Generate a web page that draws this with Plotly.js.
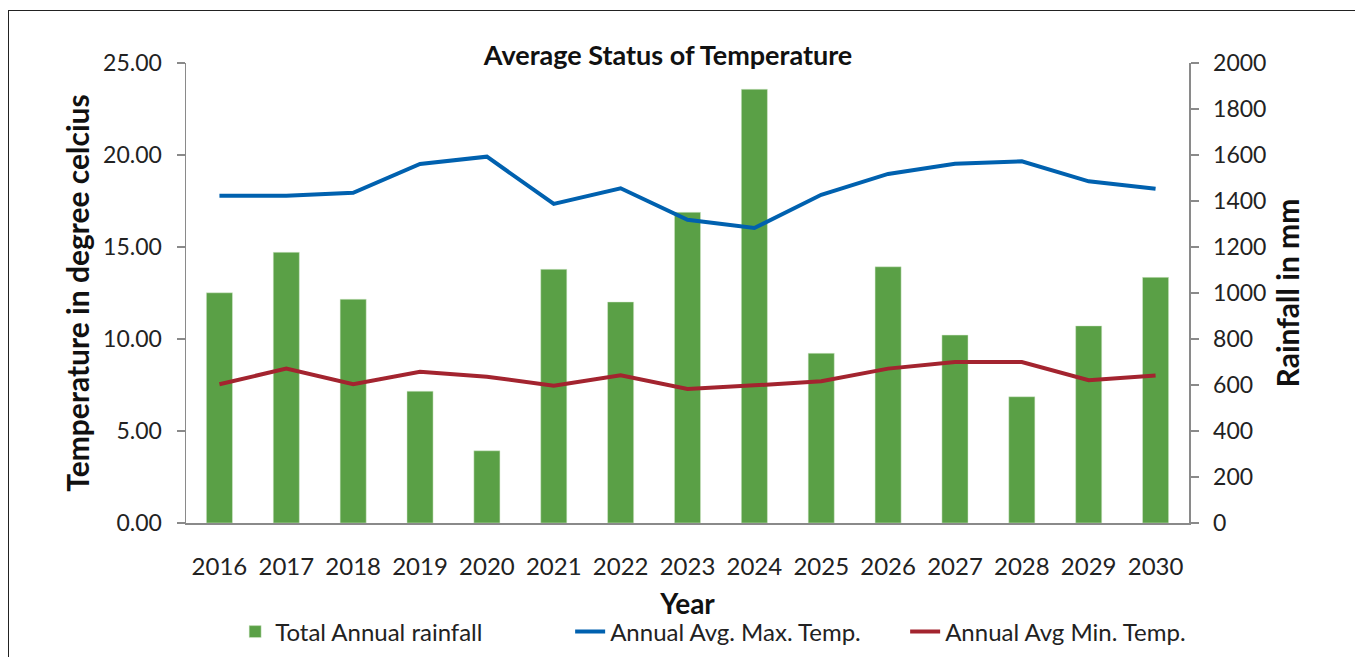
<!DOCTYPE html>
<html>
<head>
<meta charset="utf-8">
<script src="https://cdn.plot.ly/plotly-3.0.1.min.js"></script>
<style>
  html, body { margin: 0; padding: 0; background: #fff; overflow: hidden; width: 1357px; height: 659px; }
  #chart { position: absolute; left: 0; top: 0; width: 1357px; height: 659px; }
  #frame { position: absolute; left: 8px; top: 10px; width: 1347px; height: 647px; box-sizing: border-box;
           border-left: 1.5px solid #222; border-top: 1.5px solid #222; pointer-events: none; }
</style>
</head>
<body>
<div id="chart"></div>
<div id="frame"></div>
<script>
const years = ['2016','2017','2018','2019','2020','2021','2022','2023','2024','2025','2026','2027','2028','2029','2030'];
const rainfall = [1001, 1177, 973, 573, 314, 1103, 961, 1351, 1886, 738, 1114, 817, 549, 857, 1068];
const maxTemp = [17.79, 17.79, 17.95, 19.51, 19.91, 17.34, 18.19, 16.48, 16.03, 17.84, 18.97, 19.53, 19.66, 18.57, 18.17];
const minTemp = [7.54, 8.39, 7.54, 8.22, 7.95, 7.46, 8.03, 7.28, 7.48, 7.70, 8.39, 8.75, 8.75, 7.76, 8.01];

const FONT = 'Lato, "Open Sans", sans-serif';
const axisGrey = '#8a8a8a';

const traces = [
  { type: 'bar', name: 'Total Annual rainfall', x: years, y: rainfall, yaxis: 'y',
    marker: { color: '#5AA046', line: { color: '#d8ead0', width: 0.5 } } },
  { type: 'scatter', mode: 'lines', name: 'Annual Avg. Max. Temp.', x: years, y: maxTemp, yaxis: 'y2',
    line: { color: '#0061AF', width: 4 } },
  { type: 'scatter', mode: 'lines', name: 'Annual Avg Min. Temp.', x: years, y: minTemp, yaxis: 'y2',
    line: { color: '#A3242F', width: 4 } }
];

const layout = {
  width: 1357, height: 659,
  margin: { l: 186, r: 168, t: 63, b: 136, autoexpand: false },
  paper_bgcolor: 'rgba(0,0,0,0)', plot_bgcolor: 'rgba(0,0,0,0)',
  font: { family: FONT, color: '#222', size: 22 },
  showlegend: true,
  bargap: 0.61,
  title: { text: '<b>Average Status of Temperature</b>', font: { family: FONT, size: 27, color: '#111' },
           xref: 'paper', x: 0.4806, xanchor: 'center', yref: 'container', y: 1 - 56/659, yanchor: 'middle' },
  xaxis: {
    type: 'category', showline: true, linecolor: axisGrey, linewidth: 1.5,
    showgrid: false, ticks: '', ticklabelstandoff: 22,
    tickfont: { family: FONT, size: 24, color: '#222' },
    title: { text: '<b>Year</b>', font: { family: FONT, size: 28, color: '#111' }, standoff: 15 },
    automargin: false
  },
  yaxis: {
    side: 'right', range: [0, 2000], dtick: 200, tick0: 0,
    showline: true, linecolor: axisGrey, linewidth: 1.5,
    showgrid: false, zeroline: false, ticks: 'outside', ticklen: 8, tickcolor: axisGrey, tickwidth: 1.5,
    ticklabelstandoff: 10,
    tickfont: { family: FONT, size: 23, color: '#222' },
    title: { text: '<b>Rainfall in mm</b>', font: { family: FONT, size: 30, color: '#111' }, standoff: 12 },
    automargin: false
  },
  yaxis2: {
    overlaying: 'y', side: 'left', range: [0, 25], dtick: 5, tick0: 0, tickformat: '.2f',
    showline: true, linecolor: axisGrey, linewidth: 1.5,
    showgrid: false, zeroline: false, ticks: 'outside', ticklen: 8, tickcolor: axisGrey, tickwidth: 1.5,
    ticklabelstandoff: 10,
    tickfont: { family: FONT, size: 23, color: '#222' },
    title: { text: '<b>Temperature in degree celcius</b>', font: { family: FONT, size: 30, color: '#111' }, standoff: 4 },
    automargin: false
  },
  legend: {
    orientation: 'h', xref: 'paper', yref: 'paper', x: 0.049, xanchor: 'left', y: -0.237, yanchor: 'middle',
    entrywidthmode: 'pixels', entrywidth: 290,
    font: { family: FONT, size: 24, color: '#222' }, traceorder: 'normal', bgcolor: 'rgba(0,0,0,0)'
  }
};

Plotly.newPlot('chart', traces, layout, { displayModeBar: false, staticPlot: true });
</script>
</body>
</html>
